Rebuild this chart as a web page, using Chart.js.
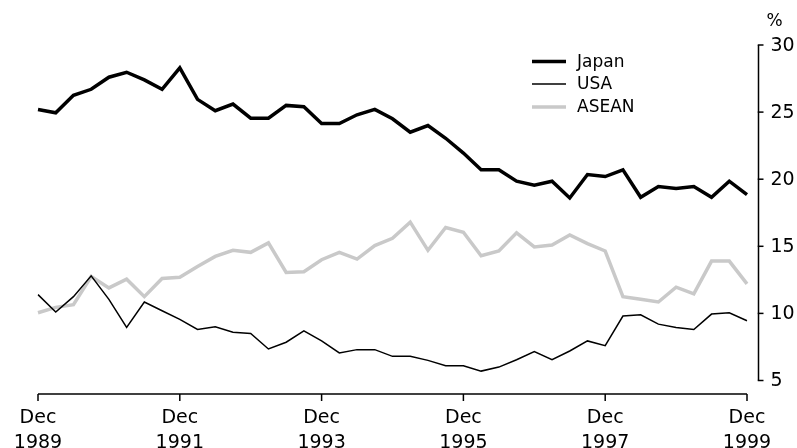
<!DOCTYPE html>
<html>
<head>
<meta charset="utf-8">
<script src="https://cdn.jsdelivr.net/npm/chart.js@4.4.1/dist/chart.umd.min.js"></script>
<style>
  html, body { margin: 0; padding: 0; background: #fff; }
  canvas { display: block; }
</style>
</head>
<body>
<canvas id="chart" width="797" height="448"></canvas>
<script>
// quarterly, Dec 1989 .. Dec 1999
var months = ["Dec", "Mar", "Jun", "Sep"];
var quarters = [];
for (var i = 0; i <= 40; i++) {
    var yr = 1989 + Math.floor((i + 3) / 4);
    quarters.push(months[i % 4] + " " + yr);
}

var japan = [25.2, 24.95, 26.25, 26.7, 27.6, 27.97, 27.4, 26.7, 28.3, 25.95,
    25.1, 25.6, 24.55, 24.55, 25.5, 25.4, 24.15, 24.15, 24.8, 25.2,
    24.5, 23.5, 24.0, 23.05, 21.95, 20.7, 20.7, 19.85, 19.55, 19.85,
    18.6, 20.35, 20.2, 20.7, 18.65, 19.45, 19.3, 19.45, 18.65, 19.85, 18.85];

var usa = [11.4, 10.1, 11.25, 12.8, 11.05, 8.95, 10.85, 10.2, 9.55, 8.8,
    9.0, 8.6, 8.5, 7.35, 7.85, 8.7, 7.95, 7.05, 7.3, 7.3,
    6.8, 6.8, 6.5, 6.1, 6.1, 5.7, 6.0, 6.55, 7.15, 6.55,
    7.2, 7.95, 7.6, 9.8, 9.9, 9.2, 8.95, 8.8, 9.95, 10.05, 9.45];

var asean = [10.05, 10.45, 10.65, 12.75, 11.9, 12.55, 11.25, 12.6, 12.7, 13.5,
    14.25, 14.7, 14.55, 15.25, 13.05, 13.1, 14.0, 14.55, 14.05, 15.05,
    15.6, 16.8, 14.7, 16.4, 16.05, 14.3, 14.65, 16.0, 14.95, 15.1,
    15.85, 15.2, 14.65, 11.25, 11.05, 10.85, 11.95, 11.45, 13.9, 13.9, 12.2];

var xTickIndex = [0, 8, 16, 24, 32, 40];
var xTickYears = ["1989", "1991", "1993", "1995", "1997", "1999"];
var yTicks = [5, 10, 15, 20, 25, 30];

var axisFont = '19px "DejaVu Sans"';
var legendFont = '17px "DejaVu Sans"';

// axes + legend drawn by hand, positioned off the chart's own scales
var axesPlugin = {
    id: 'absAxes',
    afterDraw: function(chart) {
        var ctx = chart.ctx;
        var xs = chart.scales.x, ys = chart.scales.y;
        var area = chart.chartArea;
        ctx.save();
        ctx.strokeStyle = '#000';
        ctx.fillStyle = '#000';
        ctx.lineWidth = 1.5;

        // x axis
        var axY = Math.round(ys.getPixelForValue(5)) + 13;
        ctx.beginPath();
        ctx.moveTo(xs.getPixelForValue(0), axY);
        ctx.lineTo(xs.getPixelForValue(40), axY);
        ctx.stroke();
        ctx.font = axisFont;
        ctx.textAlign = 'center';
        ctx.textBaseline = 'alphabetic';
        xTickIndex.forEach(function(idx, k) {
            var px = xs.getPixelForValue(idx);
            ctx.beginPath();
            ctx.moveTo(px, axY);
            ctx.lineTo(px, axY + 7);
            ctx.stroke();
            ctx.fillText("Dec", px, axY + 29);
            ctx.fillText(xTickYears[k], px, axY + 54);
        });

        // y axis on the right
        var axX = area.right + 11.5;
        ctx.beginPath();
        ctx.moveTo(axX, ys.getPixelForValue(30));
        ctx.lineTo(axX, ys.getPixelForValue(5));
        ctx.stroke();
        ctx.textAlign = 'left';
        ctx.textBaseline = 'middle';
        yTicks.forEach(function(v) {
            var py = ys.getPixelForValue(v);
            ctx.beginPath();
            ctx.moveTo(axX - 0.75, py);
            ctx.lineTo(axX + 5, py);
            ctx.stroke();
            ctx.fillText(String(v), axX + 12, py + 1);
        });
        ctx.font = legendFont;
        ctx.textAlign = 'center';
        ctx.textBaseline = 'alphabetic';
        ctx.fillText("%", axX + 16, 26);

        // legend
        var ly = [61.5, 84, 107];
        ctx.font = legendFont;
        ctx.textAlign = 'left';
        ctx.textBaseline = 'middle';
        chart.data.datasets.forEach(function(ds, k) {
            ctx.strokeStyle = ds.borderColor;
            ctx.lineWidth = ds.borderWidth;
            ctx.beginPath();
            ctx.moveTo(532, ly[k]);
            ctx.lineTo(566, ly[k]);
            ctx.stroke();
            ctx.fillStyle = '#000';
            ctx.fillText(ds.label, 577, ly[k] + 1);
        });
        ctx.restore();
    }
};

new Chart(document.getElementById('chart'), {
    type: 'line',
    data: {
        labels: quarters,
        datasets: [
            { label: 'Japan', data: japan, borderColor: '#000', borderWidth: 3.5 },
            { label: 'USA', data: usa, borderColor: '#000', borderWidth: 1.5 },
            { label: 'ASEAN', data: asean, borderColor: '#c9c9c9', borderWidth: 3.5 }
        ]
    },
    options: {
        responsive: false,
        animation: false,
        devicePixelRatio: 1,
        layout: { padding: { left: 38, right: 50, top: 45, bottom: 67.5 } },
        elements: {
            point: { radius: 0 },
            line: { tension: 0, fill: false, borderJoinStyle: 'miter' }
        },
        plugins: { legend: { display: false }, tooltip: { enabled: false } },
        scales: {
            x: { type: 'category', display: false },
            y: { min: 5, max: 30, display: false }
        }
    },
    plugins: [axesPlugin]
});
</script>
</body>
</html>
